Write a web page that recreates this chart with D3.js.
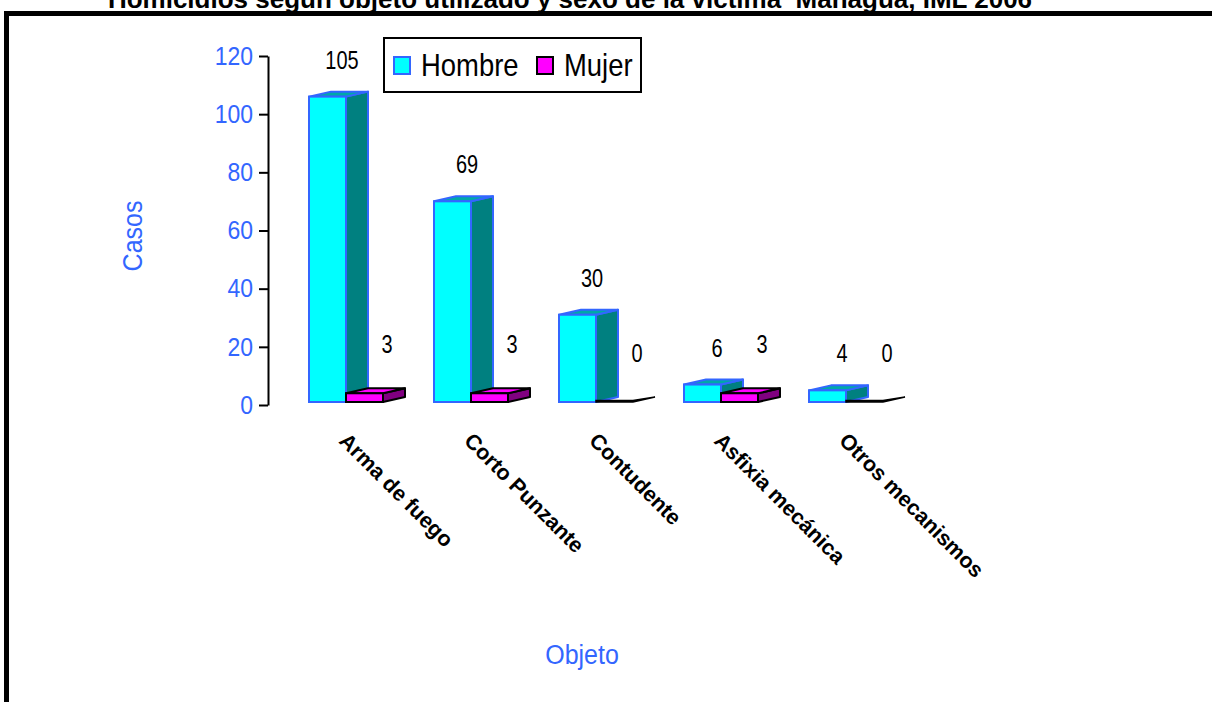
<!DOCTYPE html>
<html>
<head>
<meta charset="utf-8">
<script src="https://cdn.jsdelivr.net/npm/d3@7"></script>
<style>
  body { margin: 0; background: #fff; }
  svg { display: block; }
  text { font-family: 'Liberation Sans', Arial, sans-serif; }
</style>
</head>
<body>
<svg id="chart"></svg>
<script>
// Datos del gráfico
const categories = ['Arma de fuego', 'Corto Punzante', 'Contudente', 'Asfixia mecánica', 'Otros mecanismos'];
const series = ['Hombre', 'Mujer'];
const hombre = [105, 69, 30, 6, 4];
const mujer = [3, 3, 0, 3, 0];
const yTicks = [0, 20, 40, 60, 80, 100, 120];

const width = 1212;
const height = 702;
const blue = '#3366ff';

const colors = {
    Hombre: { front: '#00ffff', side: '#008080', top: '#00a8a8', stroke: blue },
    Mujer: { front: '#ff00ff', side: '#800080', top: '#ff00ff', stroke: '#000' }
};

const svg = d3.select('#chart').attr('width', width).attr('height', height);

// Marco
svg.append('line').attr('x1', 4).attr('x2', width).attr('y1', 13.5).attr('y2', 13.5)
    .attr('stroke', '#000').attr('stroke-width', 5);
svg.append('line').attr('x1', 6.5).attr('x2', 6.5).attr('y1', 11).attr('y2', height)
    .attr('stroke', '#000').attr('stroke-width', 5);

// Título (cortado arriba, como en el original)
svg.append('text')
    .attr('x', 570).attr('y', 8)
    .attr('text-anchor', 'middle')
    .style('white-space', 'pre')
    .style('font-weight', 'bold')
    .style('font-size', '26px')
    .text('Homicidios según objeto utilizado y sexo de la víctima  Managua, IML 2006');

// Escalas
const y = d3.scaleLinear().domain([0, 120]).range([405, 56]);
const floor = -3; // las barras 3D se apoyan un poco arriba del eje
const x = d3.scaleBand().domain(categories).range([309, 883]).paddingInner(0.408).paddingOuter(0);
const xs = d3.scaleBand().domain(series).range([0, x.bandwidth()]);
const dx = 22, dy = -5;

// Eje Y
const yAxis = svg.append('g')
    .attr('transform', 'translate(268,0)')
    .call(d3.axisLeft(y).tickValues(yTicks).tickSize(9).tickSizeOuter(0).tickPadding(6));
yAxis.select('.domain').attr('stroke', '#000').attr('stroke-width', 2);
yAxis.selectAll('.tick line').attr('stroke', '#000').attr('stroke-width', 2);
yAxis.selectAll('.tick text')
    .attr('fill', blue)
    .attr('transform', 'scale(1,1.12)')
    .style('font-size', '23px')
    .style('font-family', "'Liberation Sans', Arial, sans-serif");

// Barras 3D
const rows = categories.map((c, i) => ({ cat: c, values: [hombre[i], mujer[i]] }));

function box(g, x0, w, v, col) {
    const yb = y(0) + floor;
    const yt = y(v) + floor;
    if (v === 0) {
        g.append('path')
            .attr('d', `M${x0},${yb}L${x0 + w},${yb}L${x0 + w + dx},${yb + dy}L${x0 + w},${yb - 1.5}L${x0},${yb - 1.5}Z`)
            .attr('fill', '#000').attr('stroke', '#000').attr('stroke-width', 1.5);
        return;
    }
    g.append('path')
        .attr('d', `M${x0 + w},${yt}L${x0 + w + dx},${yt + dy}L${x0 + w + dx},${yb + dy}L${x0 + w},${yb}Z`)
        .attr('fill', col.side).attr('stroke', col.stroke).attr('stroke-width', 2).attr('stroke-linejoin', 'round');
    g.append('path')
        .attr('d', `M${x0},${yt}L${x0 + dx},${yt + dy}L${x0 + w + dx},${yt + dy}L${x0 + w},${yt}Z`)
        .attr('fill', col.top).attr('stroke', col.stroke).attr('stroke-width', 2).attr('stroke-linejoin', 'round');
    g.append('rect')
        .attr('x', x0).attr('y', yt).attr('width', w).attr('height', yb - yt)
        .attr('fill', col.front).attr('stroke', col.stroke).attr('stroke-width', 2);
}

const groups = svg.append('g').selectAll('g')
    .data(rows)
    .enter()
    .append('g');

groups.each(function(d) {
    const g = d3.select(this);
    d.values.forEach((v, j) => {
        box(g, x(d.cat) + xs(series[j]), xs.bandwidth(), v, colors[series[j]]);
    });
});

// Etiquetas de valores (un poco estiradas en vertical, como el original)
groups.each(function(d) {
    const g = d3.select(this);
    g.append('text')
        .attr('transform', `translate(${x(d.cat) + 33},${y(d.values[0]) + floor - 28}) scale(0.95,1.2)`)
        .attr('text-anchor', 'middle')
        .style('font-size', '21px')
        .text(d.values[0]);
    g.append('text')
        .attr('transform', `translate(${x(d.cat) + 78},${y(d.values[1]) + floor - 40}) scale(0.95,1.2)`)
        .attr('text-anchor', 'middle')
        .style('font-size', '21px')
        .text(d.values[1]);
});

// Etiquetas de categorías (rotadas)
svg.append('g').selectAll('text')
    .data(categories)
    .enter()
    .append('text')
    .attr('transform', (d) => `translate(${x(d) + 29},442) rotate(45)`)
    .style('font-weight', 'bold')
    .style('font-size', '21.5px')
    .text((d) => d);

// Títulos de ejes
svg.append('text')
    .attr('transform', 'translate(142,236) rotate(-90) scale(1,1.12)')
    .attr('text-anchor', 'middle')
    .attr('fill', blue)
    .style('font-size', '25px')
    .text('Casos');

svg.append('text')
    .attr('transform', 'translate(582,664) scale(1,1.12)')
    .attr('text-anchor', 'middle')
    .attr('fill', blue)
    .style('font-size', '25px')
    .text('Objeto');

// Leyenda
const legend = svg.append('g');
legend.append('rect')
    .attr('x', 384).attr('y', 38).attr('width', 257).attr('height', 54)
    .attr('fill', '#fff').attr('stroke', '#000').attr('stroke-width', 2);
const legendX = d3.scaleOrdinal().domain(series).range([394, 537]);
const items = legend.selectAll('g.item')
    .data(series)
    .enter()
    .append('g')
    .attr('class', 'item')
    .attr('transform', (d) => `translate(${legendX(d)},57)`);
items.append('rect')
    .attr('width', 16).attr('height', 17)
    .attr('fill', (d) => colors[d].front)
    .attr('stroke', (d) => colors[d].stroke)
    .attr('stroke-width', 2);
items.append('text')
    .attr('transform', 'translate(27,19) scale(0.98,1.15)')
    .style('font-size', '28px')
    .text((d) => d);
</script>
</body>
</html>
